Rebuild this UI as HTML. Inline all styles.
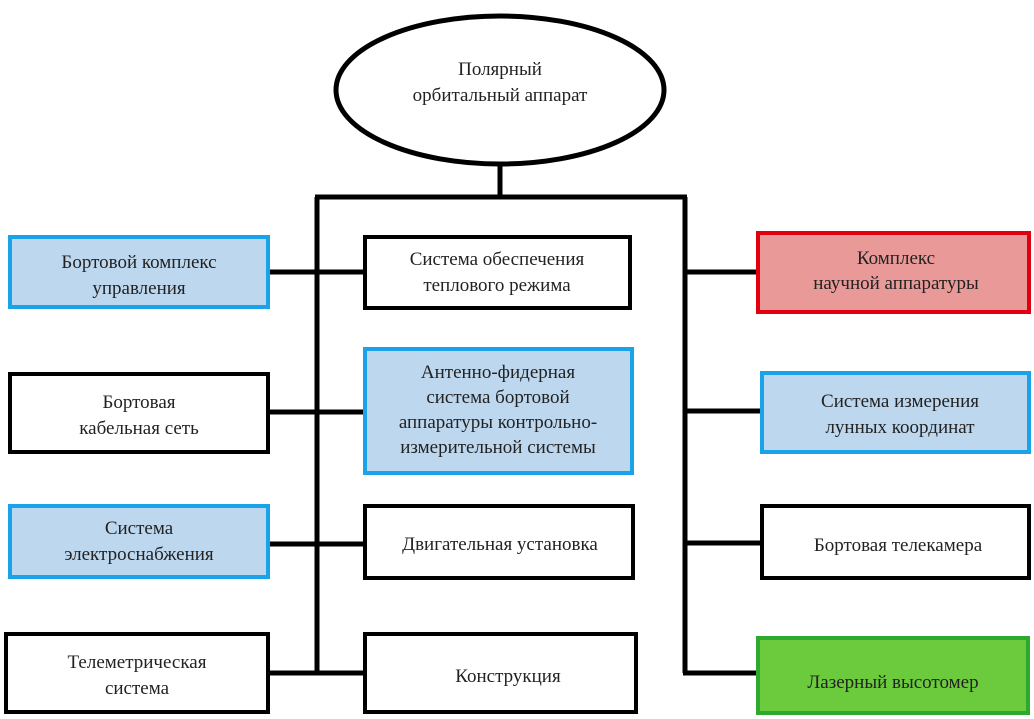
<!DOCTYPE html>
<html><head><meta charset="utf-8"><style>
html,body{margin:0;padding:0;background:#fff;}
svg{display:block;}
text{font-family:"Liberation Serif","DejaVu Serif",serif;font-size:19px;fill:#222;text-anchor:middle;}
</style></head><body>
<svg width="1034" height="719" viewBox="0 0 1034 719" xmlns="http://www.w3.org/2000/svg">
<g stroke="#000" stroke-width="5" fill="none">
<ellipse cx="500" cy="90" rx="164" ry="74"/>
<line x1="500" y1="164" x2="500" y2="197"/>
<line x1="315" y1="197" x2="687" y2="197"/>
<line x1="317" y1="197" x2="317" y2="673"/>
<line x1="685" y1="197" x2="685" y2="673"/>
<line x1="269" y1="272" x2="364" y2="272"/>
<line x1="269" y1="412" x2="364" y2="412"/>
<line x1="269" y1="544" x2="364" y2="544"/>
<line x1="269" y1="673" x2="364" y2="673"/>
<line x1="685" y1="272" x2="757" y2="272"/>
<line x1="685" y1="411" x2="761" y2="411"/>
<line x1="685" y1="543" x2="761" y2="543"/>
<line x1="683" y1="673" x2="757" y2="673"/>
</g>
<g stroke-width="4">
<rect x="10" y="237" width="258" height="70" fill="#bdd7ee" stroke="#1aa3e8"/>
<rect x="10" y="374" width="258" height="78" fill="#fff" stroke="#000"/>
<rect x="10" y="506" width="258" height="71" fill="#bdd7ee" stroke="#1aa3e8"/>
<rect x="6" y="634" width="262" height="78" fill="#fff" stroke="#000"/>
<rect x="365" y="237" width="265" height="71" fill="#fff" stroke="#000"/>
<rect x="365" y="349" width="267" height="124" fill="#bdd7ee" stroke="#1aa3e8"/>
<rect x="365" y="506" width="268" height="72" fill="#fff" stroke="#000"/>
<rect x="365" y="634" width="271" height="78" fill="#fff" stroke="#000"/>
<rect x="758" y="233" width="271" height="79" fill="#ea9999" stroke="#e0000f"/>
<rect x="762" y="373" width="267" height="79" fill="#bdd7ee" stroke="#1aa3e8"/>
<rect x="762" y="506" width="267" height="72" fill="#fff" stroke="#000"/>
<rect x="758" y="638" width="270" height="75" fill="#6ccb3c" stroke="#2fa82f"/>
</g>
<text x="500" y="75">Полярный</text>
<text x="500" y="101">орбитальный аппарат</text>
<text x="139" y="268">Бортовой комплекс</text>
<text x="139" y="294">управления</text>
<text x="139" y="408">Бортовая</text>
<text x="139" y="434">кабельная сеть</text>
<text x="139" y="534">Система</text>
<text x="139" y="560">электроснабжения</text>
<text x="137" y="668">Телеметрическая</text>
<text x="137" y="694">система</text>
<text x="497" y="265">Система обеспечения</text>
<text x="497" y="291">теплового режима</text>
<text x="498" y="378">Антенно-фидерная</text>
<text x="498" y="403">система бортовой</text>
<text x="498" y="428">аппаратуры контрольно-</text>
<text x="498" y="453">измерительной системы</text>
<text x="500" y="550">Двигательная установка</text>
<text x="508" y="682">Конструкция</text>
<text x="896" y="264">Комплекс</text>
<text x="896" y="289">научной аппаратуры</text>
<text x="900" y="407">Система измерения</text>
<text x="900" y="433">лунных координат</text>
<text x="898" y="551">Бортовая телекамера</text>
<text x="893" y="688">Лазерный высотомер</text>
</svg>
</body></html>
